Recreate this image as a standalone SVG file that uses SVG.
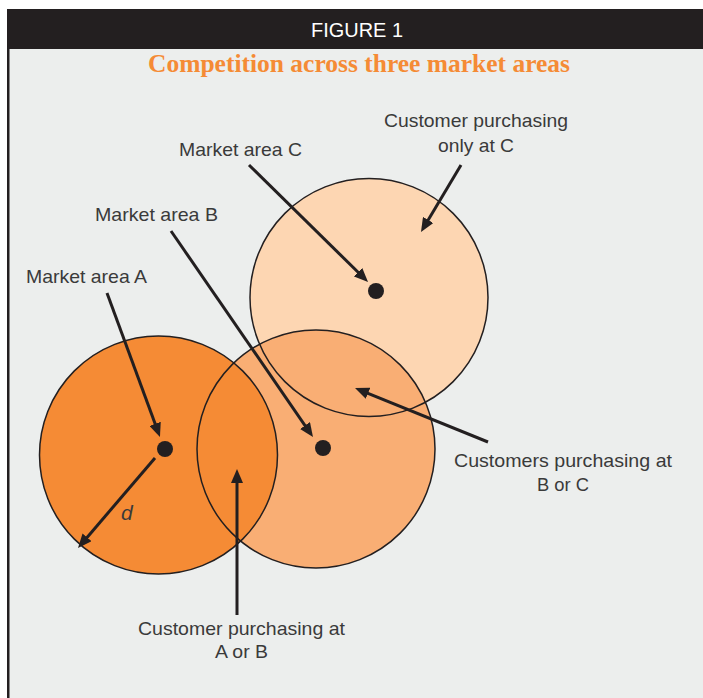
<svg xmlns="http://www.w3.org/2000/svg" width="703" height="698" viewBox="0 0 703 698">
<defs>
<marker id="ah" viewBox="0 0 14 12" refX="4" refY="6" markerWidth="14" markerHeight="12" markerUnits="userSpaceOnUse" orient="auto">
<path d="M0,0 L14,6 L0,12 z" fill="#231f20"/>
</marker>
</defs>
<style>
.lbl{font-family:"Liberation Sans",Arial,sans-serif;font-size:19px;fill:#3a3a3a}
.ring{fill:none;stroke:#231f20;stroke-width:1.5}
.arr{stroke:#231f20;stroke-width:3;fill:none;marker-end:url(#ah)}
.dot{fill:#231f20}
</style>
<rect x="0" y="0" width="703" height="698" fill="#ffffff"/>
<rect x="7" y="49" width="696" height="649" fill="#eceeed"/>
<rect x="7" y="49" width="2.5" height="649" fill="#231f20"/>
<rect x="7" y="9" width="696" height="40" fill="#231f20"/>
<text x="357" y="37" text-anchor="middle" font-family="Liberation Sans,Arial,sans-serif" font-size="20" fill="#ffffff" textLength="92" lengthAdjust="spacingAndGlyphs">FIGURE 1</text>
<text x="359" y="72" text-anchor="middle" font-family="Liberation Serif,Times New Roman,serif" font-weight="bold" font-size="26" fill="#f58b35" textLength="422" lengthAdjust="spacingAndGlyphs">Competition across three market areas</text>

<g id="fills">
<circle cx="369" cy="297.5" r="119" fill="#fdd6b2"/>
<circle cx="316" cy="449" r="119" fill="#f9ae74"/>
<circle cx="158.5" cy="455" r="119" fill="#f58b35"/>
</g>
<g id="areaC"><circle class="ring" cx="369" cy="297.5" r="119"/><circle class="dot" cx="376" cy="291" r="8"/></g>
<g id="areaB"><circle class="ring" cx="316" cy="449" r="119"/><circle class="dot" cx="323" cy="448" r="8"/></g>
<g id="areaA"><circle class="ring" cx="158.5" cy="455" r="119"/><circle class="dot" cx="165" cy="449" r="8"/></g>

<g id="connectors">
<line class="arr" x1="107" y1="293" x2="156.5" y2="427.6"/>
<line class="arr" x1="171" y1="231" x2="307.3" y2="428.8"/>
<line class="arr" x1="249" y1="165" x2="360.9" y2="275"/>
<line class="arr" x1="461" y1="165" x2="426.1" y2="223.4"/>
<line class="arr" x1="488" y1="442" x2="364.3" y2="391.8"/>
<line class="arr" x1="237" y1="615" x2="237" y2="479"/>
<line class="arr" x1="155" y1="458" x2="84.5" y2="540.4"/>
</g>

<g id="labels">
<text class="lbl" x="26" y="283" textLength="121" lengthAdjust="spacingAndGlyphs">Market area A</text>
<text class="lbl" x="95" y="221" textLength="123" lengthAdjust="spacingAndGlyphs">Market area B</text>
<text class="lbl" x="179" y="156" textLength="123" lengthAdjust="spacingAndGlyphs">Market area C</text>
<text class="lbl" x="476" y="127" text-anchor="middle" textLength="184" lengthAdjust="spacingAndGlyphs">Customer purchasing</text>
<text class="lbl" x="476" y="152" text-anchor="middle" textLength="76" lengthAdjust="spacingAndGlyphs">only at C</text>
<text class="lbl" x="563" y="467" text-anchor="middle" textLength="218" lengthAdjust="spacingAndGlyphs">Customers purchasing at</text>
<text class="lbl" x="563" y="491" text-anchor="middle" textLength="52" lengthAdjust="spacingAndGlyphs">B or C</text>
<text class="lbl" x="241.5" y="635" text-anchor="middle" textLength="207" lengthAdjust="spacingAndGlyphs">Customer purchasing at</text>
<text class="lbl" x="241.5" y="658" text-anchor="middle" textLength="53" lengthAdjust="spacingAndGlyphs">A or B</text>
<text class="lbl" x="121" y="520" font-style="italic" font-size="21px" style="font-size:21px">d</text>
</g>
</svg>
